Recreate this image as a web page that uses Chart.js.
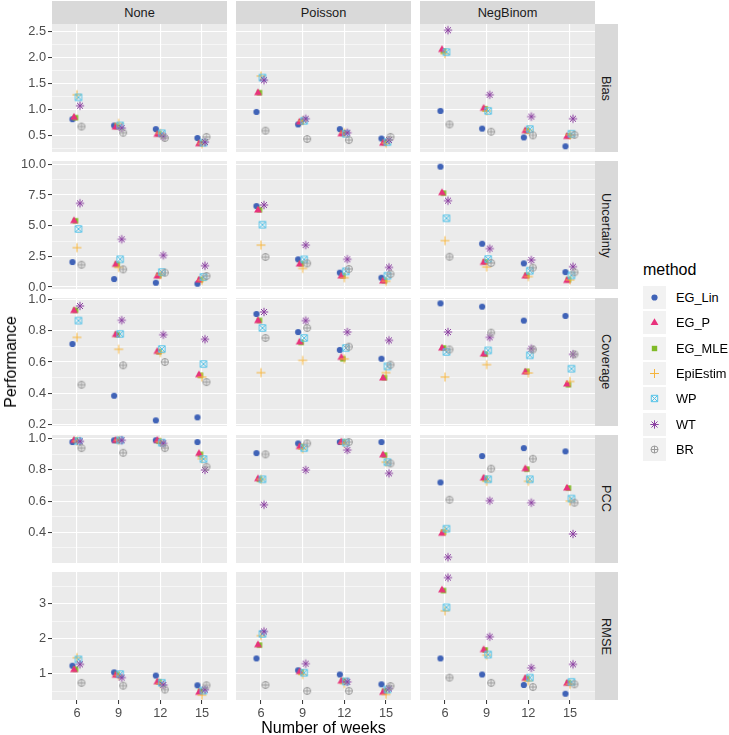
<!DOCTYPE html>
<html>
<head>
<meta charset="utf-8">
<script src="https://cdn.jsdelivr.net/npm/chart.js@4.4.1/dist/chart.umd.min.js"></script>
<style>
  body { margin: 0; background: #fff; font-family: "Liberation Sans", Arial, sans-serif; }
  #wrap { position: relative; width: 729px; height: 735px; overflow: hidden; }
  .box { position: absolute; line-height: 0; }
  .strip { position: absolute; background: #D9D9D9; color: #1A1A1A; font-size: 12.8px;
           display: flex; align-items: center; justify-content: center; }
  .vstrip { writing-mode: vertical-rl; }
  .title { position: absolute; font-size: 16px; color: #000; white-space: nowrap; }
  .key { position: absolute; width: 23px; height: 23px; background: #F2F2F2; line-height: 0; }
  .lab { position: absolute; font-size: 12.8px; color: #000; line-height: 23px; }
</style>
</head>
<body>
<div id="wrap"></div>
<script>
// ---- data ----
const weeks = [6, 9, 12, 15];
const noiseModels = ['None', 'Poisson', 'NegBinom'];
const metrics = ['Bias', 'Uncertainty', 'Coverage', 'PCC', 'RMSE'];
const methods = ['EG_Lin', 'EG_P', 'EG_MLE', 'EpiEstim', 'WP', 'WT', 'BR'];

// one line per method: None(6,9,12,15) | Poisson(6,9,12,15) | NegBinom(6,9,12,15)
const biasVals = [
  [0.82, 0.70, 0.63, 0.46,  0.96, 0.72, 0.63, 0.45,  0.98, 0.64, 0.47, 0.30],
  [0.86, 0.67, 0.53, 0.35,  1.33, 0.77, 0.54, 0.36,  2.16, 1.03, 0.60, 0.49],
  [0.85, 0.68, 0.54, 0.36,  1.33, 0.77, 0.55, 0.37,  2.13, 1.02, 0.60, 0.50],
  [1.29, 0.74, 0.55, 0.35,  1.65, 0.79, 0.56, 0.36,  2.08, 0.98, 0.61, 0.52],
  [1.24, 0.70, 0.55, 0.37,  1.62, 0.79, 0.54, 0.38,  2.11, 0.98, 0.63, 0.54],
  [1.08, 0.65, 0.49, 0.38,  1.57, 0.83, 0.56, 0.42,  2.53, 1.29, 0.87, 0.83],
  [0.68, 0.56, 0.46, 0.48,  0.60, 0.44, 0.42, 0.48,  0.72, 0.58, 0.51, 0.52]
];
const uncertaintyVals = [
  [2.04, 0.65, 0.35, 0.27,  6.60, 2.26, 1.17, 0.76,  9.81, 3.53, 1.93, 1.22],
  [5.41, 1.85, 0.90, 0.57,  6.28, 1.88, 0.90, 0.49,  7.69, 2.01, 0.90, 0.54],
  [5.40, 1.85, 0.95, 0.60,  6.30, 1.90, 0.92, 0.52,  7.65, 2.05, 0.95, 0.60],
  [3.21, 1.60, 1.00, 0.55,  3.42, 1.52, 0.76, 0.47,  3.78, 1.63, 0.85, 0.58],
  [4.73, 2.26, 1.22, 0.82,  5.08, 2.25, 1.28, 0.92,  5.60, 2.28, 1.33, 0.95],
  [6.82, 3.89, 2.58, 1.74,  6.68, 3.42, 2.26, 1.60,  7.04, 3.13, 2.20, 1.66],
  [1.82, 1.44, 1.17, 0.90,  2.45, 1.93, 1.47, 1.06,  2.47, 1.96, 1.58, 1.20]
];
const coverageVals = [
  [0.715, 0.385, 0.228, 0.247,  0.906, 0.791, 0.677, 0.621,  0.974, 0.953, 0.864, 0.894],
  [0.928, 0.775, 0.668, 0.519,  0.864, 0.728, 0.630, 0.498,  0.689, 0.651, 0.537, 0.460],
  [0.930, 0.775, 0.665, 0.515,  0.865, 0.725, 0.620, 0.500,  0.690, 0.650, 0.540, 0.455],
  [0.757, 0.681, 0.660, 0.504,  0.532, 0.610, 0.620, 0.532,  0.504, 0.583, 0.530, 0.476],
  [0.864, 0.779, 0.683, 0.587,  0.817, 0.753, 0.689, 0.572,  0.664, 0.674, 0.643, 0.557],
  [0.957, 0.866, 0.774, 0.745,  0.919, 0.864, 0.791, 0.738,  0.791, 0.757, 0.685, 0.649],
  [0.455, 0.579, 0.600, 0.472,  0.753, 0.817, 0.698, 0.583,  0.680, 0.787, 0.680, 0.649]
];
const pccVals = [
  [0.979, 0.990, 0.990, 0.979,  0.908, 0.970, 0.979, 0.979,  0.720, 0.889, 0.940, 0.919],
  [0.990, 0.990, 0.990, 0.906,  0.744, 0.950, 0.980, 0.897,  0.394, 0.748, 0.808, 0.684],
  [0.990, 0.990, 0.985, 0.900,  0.740, 0.950, 0.980, 0.895,  0.400, 0.745, 0.805, 0.684],
  [0.985, 0.990, 0.980, 0.872,  0.740, 0.935, 0.970, 0.850,  0.410, 0.727, 0.727, 0.600],
  [0.985, 0.990, 0.975, 0.870,  0.740, 0.940, 0.975, 0.850,  0.423, 0.740, 0.740, 0.616],
  [0.983, 0.990, 0.970, 0.800,  0.577, 0.800, 0.927, 0.778,  0.240, 0.603, 0.590, 0.389],
  [0.940, 0.910, 0.940, 0.820,  0.900, 0.970, 0.979, 0.842,  0.609, 0.808, 0.872, 0.590]
];
const rmseVals = [
  [1.23, 1.04, 0.95, 0.67,  1.44, 1.10, 0.98, 0.70,  1.44, 0.98, 0.68, 0.43],
  [1.12, 0.96, 0.77, 0.47,  1.83, 1.06, 0.79, 0.47,  3.40, 1.69, 0.87, 0.73],
  [1.13, 0.98, 0.77, 0.50,  1.82, 1.05, 0.80, 0.50,  3.38, 1.68, 0.87, 0.74],
  [1.46, 0.95, 0.72, 0.39,  2.09, 0.98, 0.72, 0.41,  2.80, 1.53, 0.80, 0.70],
  [1.41, 0.99, 0.74, 0.52,  2.14, 1.03, 0.78, 0.55,  2.90, 1.55, 0.89, 0.77],
  [1.27, 0.89, 0.68, 0.55,  2.21, 1.29, 0.77, 0.58,  3.75, 2.06, 1.17, 1.27],
  [0.74, 0.66, 0.55, 0.67,  0.68, 0.51, 0.51, 0.65,  0.89, 0.74, 0.62, 0.70]
];
const metricVals = [biasVals, uncertaintyVals, coverageVals, pccVals, rmseVals];

// y axis: labelled ticks, minor grid lines, visible range of each facet row
const majorTicks = [[0.5, 1, 1.5, 2, 2.5], [0, 2.5, 5, 7.5, 10], [0.2, 0.4, 0.6, 0.8, 1], [0.4, 0.6, 0.8, 1], [1, 2, 3]];
const minorTicks = [[0.25, 0.75, 1.25, 1.75, 2.25], [1.25, 3.75, 6.25, 8.75], [0.3, 0.5, 0.7, 0.9], [0.3, 0.5, 0.7, 0.9], [0.5, 1.5, 2.5, 3.5]];
const tickDigits = [1, 1, 1, 1, 0];
const yMin = [0.19, -0.16, 0.192, 0.203, 0.25];
const yMax = [2.65, 10.27, 1.008, 1.024, 3.91];

// ---- styling ----
const colors = {
  EG_Lin: '#4063B7', EG_P: '#E8327C', EG_MLE: '#80BA27', EpiEstim: '#F5B43C',
  WP: '#54C3E8', WT: '#8B3FA1', BR: '#9A9A9A'
};
const dodge = [-0.108, -0.072, -0.036, 0, 0.036, 0.072, 0.108];
// stacking, bottom to top
const drawOrder = ['EG_Lin', 'EG_MLE', 'EG_P', 'EpiEstim', 'WP', 'WT', 'BR'];

const panelX = [52, 236, 420];
const panelY = [24, 161, 298, 435, 572];
const panelW = 175, panelH = 128;
const yAxisW = 52, xAxisH = 22;
const labelRoom = 8; // extra canvas above/below the left panels so edge tick labels are not cut

Chart.defaults.font.family = '"Liberation Sans", Arial, sans-serif';

const wrap = document.getElementById('wrap');

function drawMarker(g, m, x, y) {
  const col = colors[m];
  g.fillStyle = col;
  g.strokeStyle = col;
  g.lineWidth = 1;
  g.beginPath();
  if (m === 'EG_Lin') {
    g.arc(x, y, 3.1, 0, Math.PI * 2);
    g.fill();
  } else if (m === 'EG_P') {
    g.moveTo(x, y - 4.3);
    g.lineTo(x + 3.9, y + 2.6);
    g.lineTo(x - 3.9, y + 2.6);
    g.closePath();
    g.fill();
  } else if (m === 'EG_MLE') {
    g.fillRect(x - 2.7, y - 2.7, 5.4, 5.4);
  } else if (m === 'EpiEstim') {
    g.moveTo(x - 4.5, y); g.lineTo(x + 4.5, y);
    g.moveTo(x, y - 4.5); g.lineTo(x, y + 4.5);
    g.stroke();
  } else if (m === 'WP') {
    g.rect(x - 3.2, y - 3.2, 6.4, 6.4);
    g.moveTo(x - 3.2, y - 3.2); g.lineTo(x + 3.2, y + 3.2);
    g.moveTo(x + 3.2, y - 3.2); g.lineTo(x - 3.2, y + 3.2);
    g.stroke();
  } else if (m === 'WT') {
    g.moveTo(x - 4.2, y); g.lineTo(x + 4.2, y);
    g.moveTo(x, y - 4.2); g.lineTo(x, y + 4.2);
    g.moveTo(x - 3, y - 3); g.lineTo(x + 3, y + 3);
    g.moveTo(x + 3, y - 3); g.lineTo(x - 3, y + 3);
    g.stroke();
  } else if (m === 'BR') {
    g.arc(x, y, 3.5, 0, Math.PI * 2);
    g.moveTo(x - 3.5, y); g.lineTo(x + 3.5, y);
    g.moveTo(x, y - 3.5); g.lineTo(x, y + 3.5);
    g.stroke();
  }
}

const markerImgs = {};
methods.forEach(m => {
  const c = document.createElement('canvas');
  c.width = 12; c.height = 12;
  drawMarker(c.getContext('2d'), m, 6, 6);
  markerImgs[m] = c;
});

const panelBg = {
  id: 'panelBg',
  beforeDraw(chart) {
    const { ctx, chartArea: a } = chart;
    ctx.save();
    ctx.fillStyle = '#EBEBEB';
    ctx.fillRect(a.left, a.top, a.width, a.height);
    ctx.restore();
  }
};

function noPad(s) {
  s.paddingTop = 0; s.paddingBottom = 0;
  s.paddingLeft = 0; s.paddingRight = 0;
}

function addBox(left, top, w, h) {
  const div = document.createElement('div');
  div.className = 'box';
  div.style.left = left + 'px';
  div.style.top = top + 'px';
  const cv = document.createElement('canvas');
  cv.width = w; cv.height = h;
  cv.style.width = w + 'px'; cv.style.height = h + 'px';
  div.appendChild(cv);
  wrap.appendChild(div);
  return cv;
}

function makePanel(r, c) {
  const leftCol = c === 0;
  const bottomRow = r === metrics.length - 1;
  const padTop = leftCol ? labelRoom : 0;
  const padBottom = leftCol && !bottomRow ? labelRoom : 0;
  const left = leftCol ? panelX[c] - yAxisW : panelX[c];
  const w = panelW + (leftCol ? yAxisW : 0);
  const h = panelH + (bottomRow ? xAxisH : 0) + padTop + padBottom;
  const cv = addBox(left, panelY[r] - padTop, w, h);
  const vals = metricVals[r];
  const tickList = majorTicks[r].map(v => ({ value: v, minor: false }))
    .concat(minorTicks[r].map(v => ({ value: v, minor: true })))
    .sort((a, b) => a.value - b.value);

  new Chart(cv, {
    type: 'scatter',
    data: {
      datasets: methods.map((m, i) => ({
        label: m,
        data: weeks.map((wk, k) => ({ x: k + 1 + dodge[i], y: vals[i][c * 4 + k] })),
        pointStyle: markerImgs[m],
        pointRadius: 4,
        order: drawOrder.length - drawOrder.indexOf(m)
      }))
    },
    options: {
      responsive: false,
      animation: false,
      layout: { padding: { top: padTop, bottom: padBottom, left: 0, right: 0 }, autoPadding: false },
      plugins: { legend: { display: false }, tooltip: { enabled: false } },
      scales: {
        x: {
          type: 'linear', min: 0.4, max: 4.6,
          afterBuildTicks: s => { s.ticks = weeks.map((wk, k) => ({ value: k + 1 })); },
          afterFit: s => { s.height = bottomRow ? xAxisH : 0; noPad(s); },
          border: { display: false },
          grid: { color: '#FFFFFF', lineWidth: 1.1, drawTicks: bottomRow, tickLength: 4,
                  tickColor: '#333333', tickWidth: 1 },
          ticks: { display: bottomRow, padding: 2, color: '#4D4D4D', font: { size: 12.8 },
                   maxRotation: 0, autoSkip: false, callback: v => weeks[v - 1] }
        },
        y: {
          type: 'linear', min: yMin[r], max: yMax[r],
          afterBuildTicks: s => { s.ticks = tickList.map(t => ({ ...t })); },
          afterFit: s => { s.width = leftCol ? yAxisW : 0; noPad(s); },
          border: { display: false },
          grid: {
            color: '#FFFFFF',
            lineWidth: ctx => (ctx.tick && ctx.tick.minor) ? 0.55 : 1.1,
            drawTicks: leftCol, tickLength: 4, tickWidth: 1,
            tickColor: ctx => (ctx.tick && ctx.tick.minor) ? 'rgba(0,0,0,0)' : '#333333'
          },
          ticks: {
            display: leftCol, padding: 2, color: '#4D4D4D', font: { size: 12.8 }, autoSkip: false,
            callback: function (v, idx) {
              return tickList[idx].minor ? '' : v.toFixed(tickDigits[r]);
            }
          }
        }
      }
    },
    plugins: [panelBg]
  });
}

for (let r = 0; r < metrics.length; r++) {
  for (let c = 0; c < noiseModels.length; c++) makePanel(r, c);
}

// facet strips
noiseModels.forEach((n, c) => {
  const s = document.createElement('div');
  s.className = 'strip';
  Object.assign(s.style, { left: panelX[c] + 'px', top: '1px', width: panelW + 'px', height: '23px' });
  s.textContent = n;
  wrap.appendChild(s);
});
metrics.forEach((m, r) => {
  const s = document.createElement('div');
  s.className = 'strip';
  Object.assign(s.style, { left: (panelX[2] + panelW) + 'px', top: panelY[r] + 'px', width: '23px', height: panelH + 'px' });
  const t = document.createElement('span');
  t.className = 'vstrip';
  t.textContent = m;
  s.appendChild(t);
  wrap.appendChild(s);
});

// axis titles
const xt = document.createElement('div');
xt.className = 'title';
xt.textContent = 'Number of weeks';
Object.assign(xt.style, { left: '323.5px', top: '728px', transform: 'translate(-50%, -50%)' });
wrap.appendChild(xt);

const yt = document.createElement('div');
yt.className = 'title';
yt.textContent = 'Performance';
Object.assign(yt.style, { left: '11px', top: '362px', transform: 'translate(-50%, -50%) rotate(-90deg)' });
wrap.appendChild(yt);

// legend
const lt = document.createElement('div');
lt.className = 'title';
lt.textContent = 'method';
Object.assign(lt.style, { left: '643px', top: '270px', transform: 'translateY(-50%)' });
wrap.appendChild(lt);

methods.forEach((m, i) => {
  const top = 286 + i * 25.3;
  const k = document.createElement('div');
  k.className = 'key';
  Object.assign(k.style, { left: '643px', top: top + 'px' });
  const cv = document.createElement('canvas');
  cv.width = 23; cv.height = 23;
  drawMarker(cv.getContext('2d'), m, 11.5, 11.5);
  k.appendChild(cv);
  wrap.appendChild(k);
  const l = document.createElement('div');
  l.className = 'lab';
  l.textContent = m;
  Object.assign(l.style, { left: '676px', top: top + 'px' });
  wrap.appendChild(l);
});
</script>
</body>
</html>
